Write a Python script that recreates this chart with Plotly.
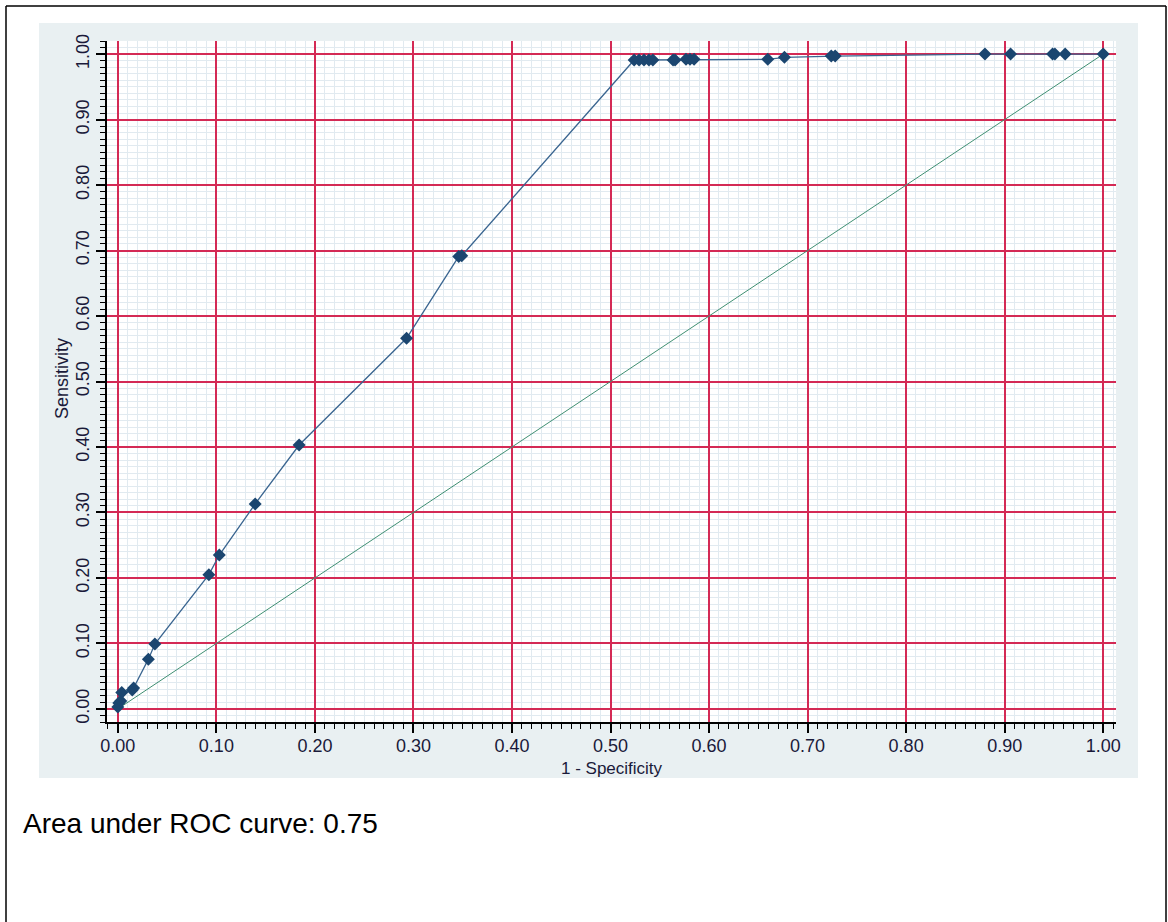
import plotly.graph_objects as go

# ROC curve points
fpr = [0.0, 0.001, 0.003, 0.004, 0.0146, 0.016, 0.031, 0.0376, 0.0924, 0.103, 0.1394, 0.184,
       0.293, 0.346, 0.349, 0.524, 0.529, 0.534, 0.539, 0.543, 0.5635, 0.5655, 0.5766,
       0.5807, 0.5848, 0.6596, 0.6765, 0.724, 0.728, 0.880, 0.906, 0.9486, 0.951, 0.9614, 1.0]
tpr = [0.003, 0.009, 0.012, 0.025, 0.029, 0.032, 0.076, 0.099, 0.205, 0.235, 0.313, 0.403,
       0.566, 0.691, 0.692, 0.991, 0.991, 0.991, 0.991, 0.991, 0.991, 0.991, 0.992,
       0.992, 0.992, 0.992, 0.995, 0.997, 0.997, 1.0, 1.0, 1.0, 1.0, 1.0, 1.0]
diag_x = [0.0, 1.0]
diag_y = [0.0, 1.0]
tick_vals = [0.0, 0.1, 0.2, 0.3, 0.4, 0.5, 0.6, 0.7, 0.8, 0.9, 1.0]
tick_text = ["0.00", "0.10", "0.20", "0.30", "0.40", "0.50", "0.60", "0.70", "0.80", "0.90", "1.00"]
auc_text = "Area under ROC curve: 0.75"

W, H = 1168, 922
L = 107
T = 41
R = W - 1116
B = H - 722
PW, PH = W - L - R, H - T - B


def px_x(p):
    return (p - L) / PW


def px_y(p):
    return (H - B - p) / PH


FONT = "Liberation Sans, Arial, sans-serif"
RED = "#d42a55"
MINOR = "#e1eaf0"
TXT = "#1a1a3a"

fig = go.Figure()
fig.add_trace(go.Scatter(x=diag_x, y=diag_y, mode="lines",
                         line=dict(color="#3f8f72", width=1), hoverinfo="skip"))
fig.add_trace(go.Scatter(x=fpr, y=tpr, mode="lines+markers",
                         line=dict(color="#3a6590", width=1.3),
                         marker=dict(symbol="diamond", size=10, color="#1b4670",
                                     line=dict(width=0))))

axis_common = dict(
    tickmode="array", tickvals=tick_vals, ticktext=tick_text,
    showgrid=True, gridcolor=RED, gridwidth=1.5,
    showline=True, linecolor="black", linewidth=1.5,
    ticks="outside", ticklen=9, tickwidth=1.5, tickcolor="black",
    zeroline=False,
    tickfont=dict(family=FONT, size=18, color=TXT),
    minor=dict(dtick=0.01, tick0=0, ticks="outside", ticklen=5, tickwidth=1,
               tickcolor="black", showgrid=True, gridcolor=MINOR, gridwidth=1),
)

fig.update_xaxes(range=[-0.011, 1.013], ticklabelstandoff=-2, **axis_common)
fig.update_yaxes(range=[-0.02, 1.02], tickangle=-90, **axis_common)

shapes = [
    # grey panel
    dict(type="rect", xref="paper", yref="paper", layer="below",
         x0=px_x(39), x1=px_x(1138), y0=px_y(778), y1=px_y(23),
         fillcolor="#e9f0f2", line=dict(width=0)),
    # white plotting area
    dict(type="rect", xref="paper", yref="paper", layer="below",
         x0=0, x1=1, y0=0, y1=1, fillcolor="white", line=dict(width=0)),
    # outer border (top, left, right)
    dict(type="line", xref="paper", yref="paper", x0=px_x(6), x1=px_x(1166),
         y0=px_y(6), y1=px_y(6), line=dict(color="black", width=1.5)),
    dict(type="line", xref="paper", yref="paper", x0=px_x(6), x1=px_x(6),
         y0=px_y(6), y1=px_y(930), line=dict(color="black", width=1.5)),
    dict(type="line", xref="paper", yref="paper", x0=px_x(1166), x1=px_x(1166),
         y0=px_y(6), y1=px_y(930), line=dict(color="black", width=1.5)),
]

annotations = [
    dict(text="1 - Specificity", xref="paper", yref="paper", x=px_x(612), y=px_y(768),
         showarrow=False, font=dict(family=FONT, size=17, color=TXT),
         xanchor="center", yanchor="middle"),
    dict(text="Sensitivity", xref="paper", yref="paper", x=px_x(62), y=px_y(379),
         showarrow=False, textangle=-90, font=dict(family=FONT, size=18, color=TXT),
         xanchor="center", yanchor="middle"),
    dict(text=auc_text, xref="paper", yref="paper", x=px_x(21), y=px_y(823),
         showarrow=False, font=dict(family=FONT, size=28, color="black"),
         xanchor="left", yanchor="middle"),
]

fig.update_layout(
    width=W, height=H,
    margin=dict(l=L, r=R, t=T, b=B),
    paper_bgcolor="white", plot_bgcolor="white",
    showlegend=False,
    shapes=shapes, annotations=annotations,
)

fig.write_html("out.html", config={"displayModeBar": False},
               post_script="document.body.style.margin='0';")
